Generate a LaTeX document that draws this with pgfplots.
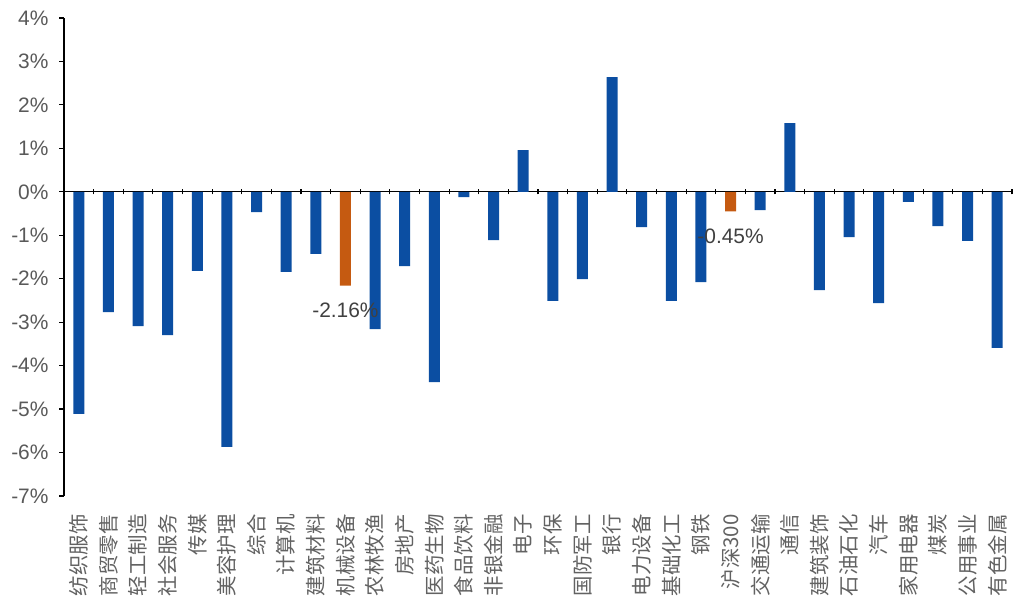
\documentclass[border=0pt]{standalone}
\usepackage{pgfplots}
\pgfplotsset{compat=1.18}
\usepackage{fontspec}
\setmainfont{Liberation Sans}
\newfontfamily\cjk{Noto Sans CJK SC}
\definecolor{barblue}{HTML}{0B4EA2}
\definecolor{barorange}{HTML}{C55A11}
\definecolor{labgray}{HTML}{595959}
\definecolor{catgray}{HTML}{626262}
\definecolor{datgray}{HTML}{404040}
\begin{document}
\begin{tikzpicture}[x=1bp,y=1bp]
\path[use as bounding box] (0,0) rectangle (1015,604);
\begin{axis}[
  at={(64bp,108bp)}, anchor=south west,
  width=948bp, height=478bp, scale only axis,
  xmin=-0.5, xmax=31.5, ymin=-7, ymax=4,
  axis x line=middle, axis y line=left,
  axis line style={-, line width=1.2bp, black},
  xtick={-0.5,0.5,...,31.5}, xticklabels={},
  x tick style={yshift=2.5bp},
  ytick={-7,-6,...,4},
  yticklabels={-7\%,-6\%,-5\%,-4\%,-3\%,-2\%,-1\%,0\%,1\%,2\%,3\%,4\%},
  ytick align=outside,
  major tick length=5bp,
  tick style={black, line width=1.2bp},
  yticklabel style={font=\fontsize{21}{23}\selectfont, color=labgray, xshift=-7bp},
  ybar, bar width=11bp, bar shift=0bp,
  clip=false,
]
\addplot[fill=barblue, draw=none] coordinates {
(0,-5.11) (1,-2.77) (2,-3.09) (3,-3.30) (4,-1.82) (5,-5.87) (6,-0.47) (7,-1.84)
(8,-1.43) (10,-3.16) (11,-1.71) (12,-4.38) (13,-0.12) (14,-1.11) (15,0.96)
(16,-2.51) (17,-2.01) (18,2.64) (19,-0.81) (20,-2.51) (21,-2.08) (23,-0.42)
(24,1.58) (25,-2.26) (26,-1.04) (27,-2.56) (28,-0.23) (29,-0.79) (30,-1.13) (31,-3.59)
};
\addplot[fill=barorange, draw=none, point meta=explicit symbolic,
  nodes near coords,
  every node near coord/.append style={anchor=north, yshift=-14bp, color=datgray, font=\fontsize{21}{23}\selectfont}]
coordinates {(9,-2.16) [-2.16\%] (22,-0.45) [-0.45\%]};
\end{axis}
\begin{axis}[
  at={(64bp,108bp)}, anchor=south west,
  width=948bp, height=478bp, scale only axis,
  xmin=-0.5, xmax=31.5, ymin=-7, ymax=4,
  hide y axis, axis x line=bottom,
  x axis line style={draw=none},
  xtick={0,...,31}, major tick length=0pt,
  xticklabels={纺织服饰,商贸零售,轻工制造,社会服务,传媒,美容护理,综合,计算机,建筑材料,机械设备,农林牧渔,房地产,医药生物,食品饮料,非银金融,电子,环保,国防军工,银行,电力设备,基础化工,钢铁,沪深300,交通运输,通信,建筑装饰,石油石化,汽车,家用电器,煤炭,公用事业,有色金属},
  xticklabel style={rotate=90, anchor=east, font=\cjk\fontsize{20.5}{21}\selectfont, color=catgray, xshift=-15bp},
]
\addplot[draw=none] coordinates {(0,0)};
\end{axis}
\end{tikzpicture}
\end{document}
